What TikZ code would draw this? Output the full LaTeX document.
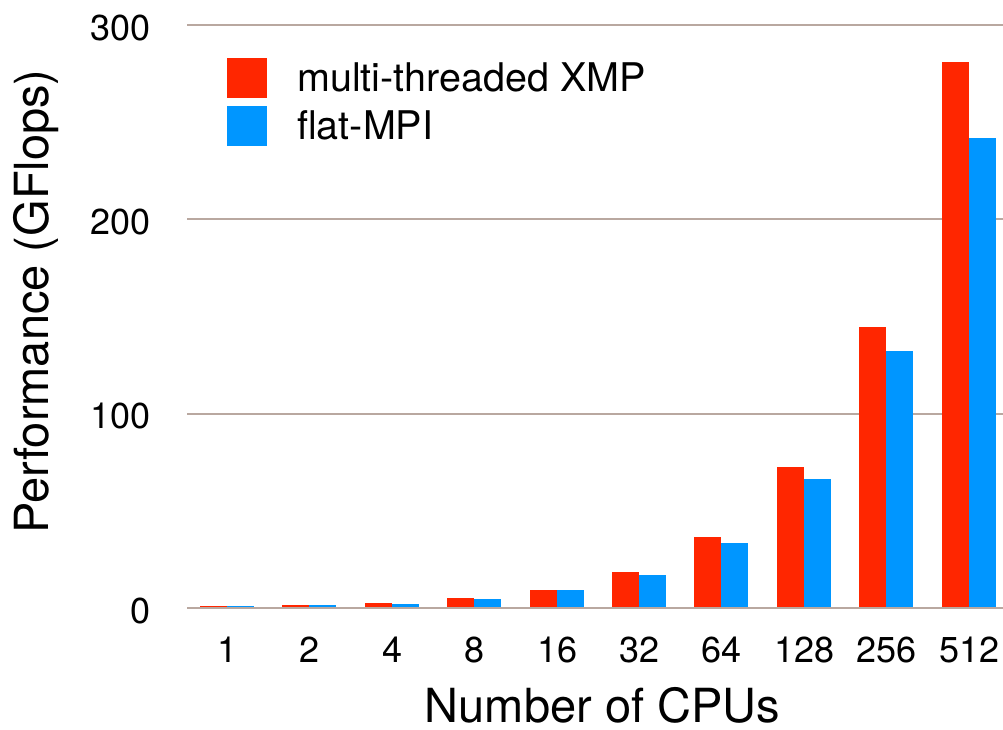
\documentclass[tikz,border=0pt]{standalone}
\usepackage{fontspec}
\setmainfont{TeX Gyre Heros}
\definecolor{xmpred}{RGB}{255,38,0}
\definecolor{mpiblue}{RGB}{0,150,255}
\definecolor{gridbrown}{RGB}{185,168,160}
\begin{document}
\begin{tikzpicture}[x=1pt,y=-1pt,
  gridline/.style={draw=gridbrown,line width=2pt},
  redbar/.style={fill=xmpred,draw=none},
  bluebar/.style={fill=mpiblue,draw=none},
  ticklabel/.style={font=\fontsize{36}{36}\selectfont,inner sep=0pt},
  axislabel/.style={font=\fontsize{47}{47}\selectfont,inner sep=0pt},
  legendtext/.style={font=\fontsize{39.5}{39.5}\selectfont,inner sep=0pt,anchor=base west}]
  \useasboundingbox[fill=white] (0,0) rectangle (1003,730);
  % value v maps to y = 608 - 1.943 v
  \def\ys{1.943}
  % horizontal grid lines with their labels
  \foreach \v in {100,200,300}{
    \draw[gridline] (187,{608-\ys*\v}) -- (1003,{608-\ys*\v});
    \node[ticklabel,anchor=base east] (ytick\v) at (151,{623-\ys*\v}) {\v};
  }
  \node[ticklabel,anchor=base east] (ytick0) at (151,623) {0};
  % baseline, drawn under the bars so the tiny ones stay visible
  \draw[gridline] (187,608) -- (1003,608);
  % bars: CPUs / multi-threaded XMP / flat-MPI (bars rest on the top of the baseline)
  \foreach \cpu/\r/\b [count=\i from 0] in {1/0.6/0.5,2/1.2/1.0,4/2.3/1.8,8/4.4/4.3,16/9.0/8.6,32/18.0/16.5,64/36.0/33.0,128/72.0/66.0,256/144.0/132.0,512/280.5/241.5}{
    \pgfmathsetmacro{\xs}{200+82.4*\i}
    \fill[redbar] (\xs,607) rectangle ({\xs+27},{607-\ys*\r});
    \fill[bluebar] ({\xs+27},607) rectangle ({\xs+54},{607-\ys*\b});
    \node[ticklabel,anchor=base] (xtick\cpu) at ({\xs+27.5},662) {\cpu};
  }
  % axis titles
  \node[axislabel,anchor=base,text depth=0pt] (xtitle) at (602.5,722) {Number of CPUs};
  \node[axislabel,anchor=base,rotate=90] (ytitle) at (48,301.5) {Performance (GFlops)};
  % legend
  \fill[redbar] (227,58) rectangle (267,98);
  \fill[bluebar] (227,106) rectangle (267,146);
  \node[legendtext] (legxmp) at (297,92) {multi-threaded XMP};
  \node[legendtext] (legmpi) at (297,140) {flat-MPI};
\end{tikzpicture}
\end{document}
